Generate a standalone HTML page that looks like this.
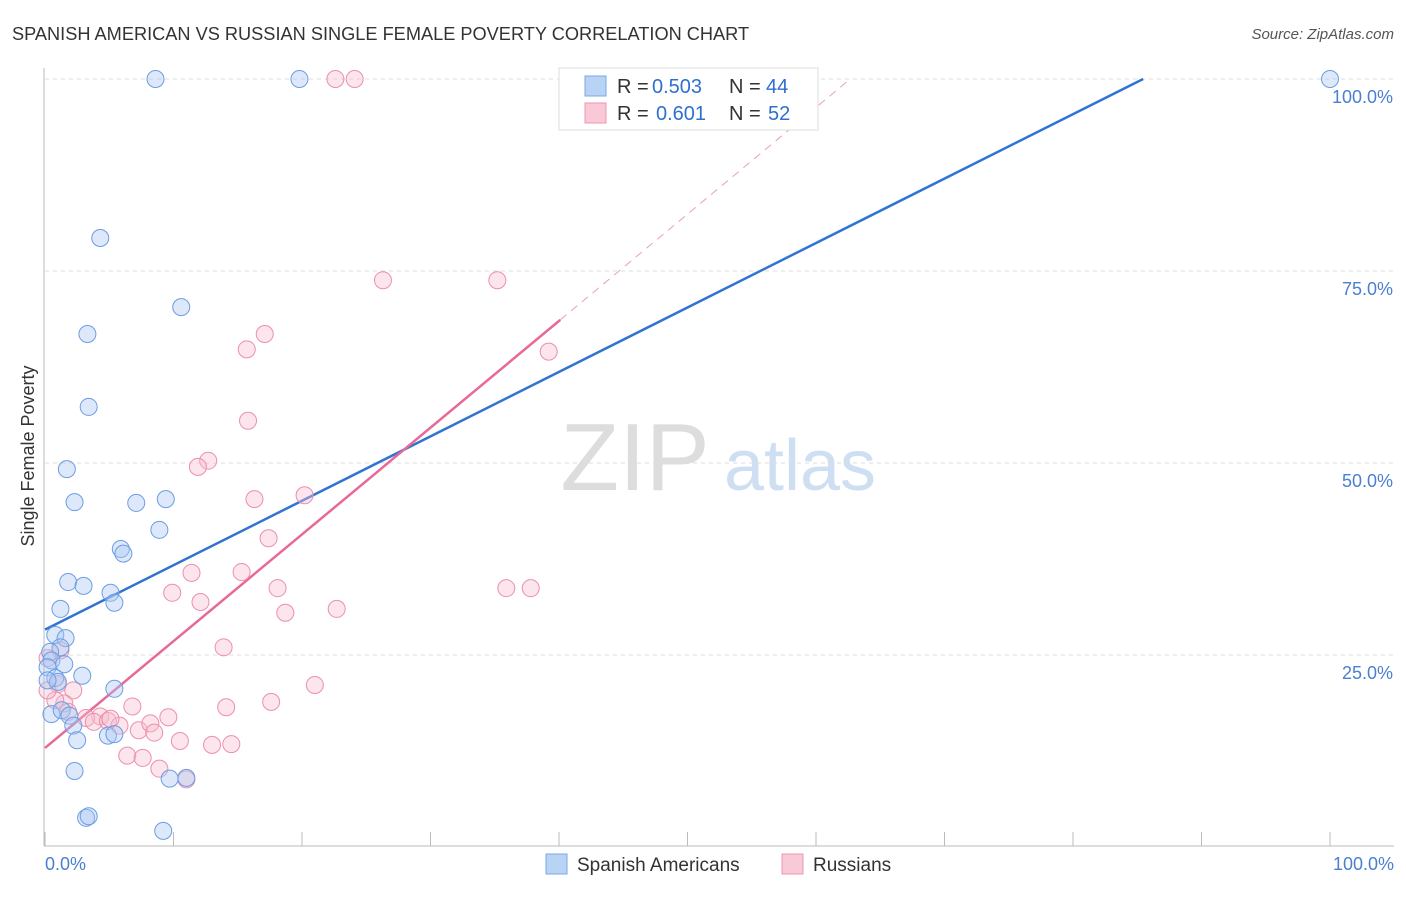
<!DOCTYPE html>
<html><head><meta charset="utf-8"><style>
body{margin:0;background:#fff;font-family:"Liberation Sans",sans-serif}
svg text{font-family:"Liberation Sans",sans-serif}
</style></head><body>
<svg id="chart" width="1406" height="892">
<text x="12" y="40" font-size="18.2" fill="#333">SPANISH AMERICAN VS RUSSIAN SINGLE FEMALE POVERTY CORRELATION CHART</text>
<text x="1394" y="39" font-size="15" fill="#555" text-anchor="end" font-style="italic">Source: ZipAtlas.com</text>
<text x="34" y="456" font-size="18" fill="#333" text-anchor="middle" transform="rotate(-90 34 456)">Single Female Poverty</text>
<g><text x="635" y="490" font-size="96" fill="#ddd" text-anchor="middle" font-family="Liberation Serif">ZIP</text><text x="800" y="490" font-size="72" fill="#cfdff3" text-anchor="middle">atlas</text></g>
<g id="grid"></g><g id="lines"></g><g id="pts"></g>
<g>
<rect x="559" y="68" width="259" height="62" fill="#fff" stroke="#ddd"/>
<rect x="585" y="76" width="21" height="20" fill="#b9d3f5" stroke="#7aa7e6"/>
<rect x="585" y="103" width="21" height="20" fill="#f9c9d7" stroke="#ee95b0"/>
<text x="617" y="93" font-size="20" fill="#333">R =</text>
<text x="652" y="93" font-size="20" fill="#2f6fd0">0.503</text>
<text x="729" y="93" font-size="20" fill="#333">N =</text>
<text x="766" y="93" font-size="20" fill="#2f6fd0">44</text>
<text x="617" y="120" font-size="20" fill="#333">R =</text>
<text x="656" y="120" font-size="20" fill="#2f6fd0">0.601</text>
<text x="729" y="120" font-size="20" fill="#333">N =</text>
<text x="768" y="120" font-size="20" fill="#2f6fd0">52</text>
</g>
<g>
<rect x="546" y="854" width="21" height="20" fill="#b9d3f5" stroke="#7aa7e6"/>
<text x="577" y="871" font-size="19" fill="#333">Spanish Americans</text>
<rect x="782" y="854" width="21" height="20" fill="#f9c9d7" stroke="#ee95b0"/>
<text x="813" y="871" font-size="19" fill="#333">Russians</text>
</g>
</svg>
<script>
const blueX=[8.6,19.8,100,4.3,10.6,3.3,3.4,1.7,2.3,7.1,9.4,8.9,5.9,6.1,1.8,3.0,5.1,5.4,1.2,0.8,1.6,1.2,0.4,0.5,1.5,0.2,2.9,0.8,1.0,5.4,0.5,1.3,1.9,2.2,2.5,4.9,5.4,2.3,9.7,11.0,3.2,3.4,9.2,0.2];
const blueY=[100,100,100,79.3,70.3,66.8,57.3,49.2,44.9,44.8,45.3,41.3,38.8,38.2,34.5,34.0,33.1,31.8,31.0,27.6,27.2,26.0,25.4,24.3,23.8,23.4,22.3,22.0,21.5,20.6,17.3,17.8,17.1,15.8,13.9,14.5,14.7,9.9,8.9,9.0,3.8,4.0,2.1,21.7];
const pinkX=[22.6,24.1,26.3,35.2,17.1,15.7,39.2,15.8,12.7,11.9,16.3,20.2,17.4,11.4,15.3,9.9,12.1,18.1,18.7,22.7,35.9,37.8,13.9,1.2,0.2,21.0,2.2,1.0,17.6,14.1,6.8,1.5,1.8,4.3,3.2,3.8,4.9,5.8,7.3,8.2,8.5,9.6,10.5,13.0,14.5,6.4,7.6,8.9,11.0,0.8,0.2,5.1];
const pinkY=[100,100,73.8,73.8,66.8,64.8,64.5,55.5,50.3,49.5,45.3,45.8,40.2,35.7,35.8,33.1,31.9,33.7,30.5,31.0,33.7,33.7,26.0,25.6,24.6,21.1,20.4,21.2,18.9,18.2,18.3,18.7,17.6,17.0,16.8,16.3,16.4,15.8,15.2,16.1,14.9,16.9,13.8,13.3,13.4,11.9,11.6,10.2,8.8,19.1,20.4,16.7];
const blueLine=[28.3,0.839], pinkLine=[12.9,1.39];
const tickY=[25,50,75,100];
const X=v=>45+v*12.85, Y=v=>847-v*7.68;
const NS="http://www.w3.org/2000/svg";
function mk(t,a,p){const e=document.createElementNS(NS,t);for(const k in a)e.setAttribute(k,a[k]);p.appendChild(e);return e;}
const g=document.getElementById('grid'),L=document.getElementById('lines'),P=document.getElementById('pts');
const ax=mk('line',{x1:44,y1:68,x2:44,y2:846,stroke:'#bbb'},g);


const bx=mk('line',{x1:44,y1:846,x2:1394,y2:846,stroke:'#bbb'},g);


tickY.forEach(v=>{
 const l=mk('line',{x1:45,x2:1394,y1:Y(v),y2:Y(v),stroke:'#ddd','stroke-dasharray':'4,4'},g);
 
 
 const t=mk('text',{x:1393,y:Y(v)+24,'font-size':18,fill:'#4a7fd0','text-anchor':'end'},g);t.textContent=v.toFixed(1)+'%';
 
 
});
for(let i=0;i<=10;i++){const l=mk('line',{x1:X(i*10),x2:X(i*10),y1:832,y2:846,stroke:'#bbb'},g);
 
 }
[[0,'0.0%','start',45],[100,'100.0%','end',1394]].forEach(a=>{const t=mk('text',{x:a[3],y:870,'font-size':18,fill:'#4a7fd0','text-anchor':a[2]},g);t.textContent=a[1];
 
 });
function pts(xs,ys,f,s,n){xs.forEach((x,i)=>{const c=mk('circle',{cx:X(x),cy:Y(ys[i]),r:8.5,fill:f,'fill-opacity':0.4,stroke:s,'stroke-width':1},P);
 
 });}
pts(pinkX,pinkY,'#f7bfd0','#ec8fab','russian-point');
pts(blueX,blueY,'#aac8f2','#6b9de3','spanish-american-point');
const bEnd=(100-blueLine[0])/blueLine[1];
const bl=mk('line',{x1:X(0),y1:Y(blueLine[0]),x2:X(bEnd),y2:Y(100),stroke:'#2f74d4','stroke-width':2.5},L);


const pEnd=(100-pinkLine[0])/pinkLine[1],pS=40.1;
const pl=mk('line',{x1:X(0),y1:Y(pinkLine[0]),x2:X(pS),y2:Y(pinkLine[0]+pinkLine[1]*pS),stroke:'#e8689a','stroke-width':2.5},L);


const pd=mk('line',{x1:X(pS),y1:Y(pinkLine[0]+pinkLine[1]*pS),x2:X(pEnd),y2:Y(100),stroke:'#e8a0b8','stroke-width':1,'stroke-dasharray':'8,6'},L);


</script>
</body></html>
